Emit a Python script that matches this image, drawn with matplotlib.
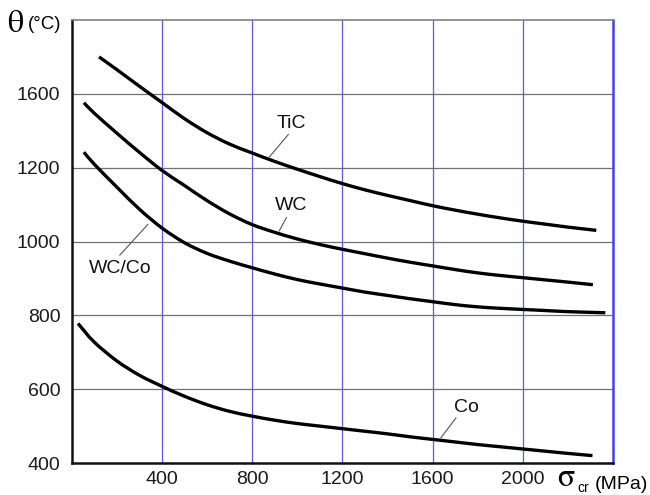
import matplotlib
matplotlib.use("Agg")
import matplotlib.pyplot as plt
from matplotlib.path import Path
from matplotlib.patches import PathPatch

# ---- data (y in linear plot units) ----
tic_x = [122, 200, 300, 400, 500, 600, 700, 800, 900, 1000, 1100, 1200, 1300,
         1400, 1500, 1600, 1700, 1800, 1900, 2000, 2100, 2200, 2300, 2326]
tic_y = [1500, 1466, 1421, 1377, 1333, 1295, 1264, 1240, 1217, 1196, 1176, 1157, 1140,
         1125, 1111, 1097, 1085, 1074, 1064, 1055, 1047, 1039, 1032, 1030]

wc_x = [55, 100, 200, 300, 400, 500, 600, 700, 800, 900, 1000, 1100, 1200,
        1300, 1400, 1500, 1600, 1700, 1800, 1900, 2000, 2100, 2200, 2311]
wc_y = [1376, 1348, 1294, 1242, 1193, 1152, 1111, 1075, 1046, 1025, 1007, 992, 979,
        967, 955, 944, 934, 924, 915, 908, 902, 896, 890, 883]

wcco_x = [55, 100, 200, 300, 400, 500, 600, 700, 800, 900, 1000, 1100, 1200,
          1300, 1400, 1500, 1600, 1700, 1800, 1900, 2000, 2100, 2200, 2366]
wcco_y = [1242, 1210, 1148, 1088, 1037, 997, 968, 947, 929, 912, 897, 885, 874,
          863, 854, 845, 837, 829, 823, 819, 816, 813, 810, 807]

co_x = [29, 100, 200, 300, 400, 500, 600, 700, 800, 900, 1000, 1100, 1200,
        1300, 1400, 1500, 1600, 1700, 1800, 1900, 2000, 2100, 2200, 2309]
co_y = [778, 728, 677, 638, 608, 581, 558, 540, 527, 516, 507, 500, 493,
        486, 479, 471, 464, 457, 450, 444, 438, 432, 426, 420]

x_ticks = [400, 800, 1200, 1600, 2000]
x_ticklabels = ["400", "800", "1200", "1600", "2000"]
y_ticks = [400, 600, 800, 1000, 1200, 1400]
y_ticklabels = ["400", "600", "800", "1000", "1200", "1600"]

FONT = "Liberation Sans"
GREEK = "STIXGeneral"


def smooth_path(xs, ys):
    """Smooth (Catmull-Rom -> cubic Bezier) path through the given points."""
    pts = list(zip(xs, ys))
    n = len(pts)
    verts = [pts[0]]
    codes = [Path.MOVETO]
    for i in range(n - 1):
        p0 = pts[i - 1] if i > 0 else pts[i]
        p1 = pts[i]
        p2 = pts[i + 1]
        p3 = pts[i + 2] if i + 2 < n else pts[i + 1]
        c1 = (p1[0] + (p2[0] - p0[0]) / 6.0, p1[1] + (p2[1] - p0[1]) / 6.0)
        c2 = (p2[0] - (p3[0] - p1[0]) / 6.0, p2[1] - (p3[1] - p1[1]) / 6.0)
        verts += [c1, c2, p2]
        codes += [Path.CURVE4] * 3
    return Path(verts, codes)


fig = plt.figure(figsize=(6.5, 4.95), dpi=100)
ax = fig.add_axes([71.5 / 650, 32 / 495, (613 - 71.5) / 650, (463 - 20) / 495])
ax.set_xlim(0, 2400)
ax.set_ylim(400, 1600)

# grid
for yv in y_ticks[1:]:
    ax.axhline(yv, color="#707070", lw=0.9, zorder=1)
for xv in x_ticks:
    ax.axvline(xv, color="#5a5ae6", lw=0.9, zorder=1)

# curves
for xs, ys in [(tic_x, tic_y), (wc_x, wc_y), (wcco_x, wcco_y), (co_x, co_y)]:
    ax.add_patch(PathPatch(smooth_path(xs, ys), facecolor="none", edgecolor="black",
                           lw=2.4, capstyle="butt", zorder=3))

# labels with leader lines
labels = [
    ("TiC", 975, 1320, (961, 1290), (877, 1229)),
    ("WC", 975, 1097, (953, 1065), (921, 1029)),
    ("WC/Co", 214, 927, (214, 963), (338, 1046)),
    ("Co", 1752, 549, (1704, 522), (1637, 468)),
]
for txt, tx, ty, p0, p1 in labels:
    ax.text(tx, ty, txt, ha="center", va="center", fontsize=14, family=FONT,
            color="#111111", zorder=4)
    ax.plot([p0[0], p1[0]], [p0[1], p1[1]], color="#555555", lw=0.8, zorder=4)

# spines
for s in ["left", "bottom"]:
    ax.spines[s].set_color("#111111")
    ax.spines[s].set_linewidth(1.8)
ax.spines["top"].set_color("#808080")
ax.spines["top"].set_linewidth(1.2)
ax.spines["right"].set_color("#4040f0")
ax.spines["right"].set_linewidth(1.8)

ax.set_xticks(x_ticks)
ax.set_xticklabels(x_ticklabels, fontsize=14, family=FONT)
ax.set_yticks(y_ticks)
ax.set_yticklabels(y_ticklabels, fontsize=14, family=FONT)
ax.tick_params(length=0, colors="#1a1a1a")
ax.tick_params(axis="y", pad=8)
ax.tick_params(axis="x", pad=6)

# axis titles
fig.text(7 / 650, 1 - 32 / 495, "θ", fontsize=23, family=GREEK, ha="left", va="baseline")
fig.text(28 / 650, 1 - 29 / 495, "(°C)", fontsize=13.5, family=FONT, ha="left", va="baseline")
fig.text(557 / 650, 1 - 493 / 495, r"$\mathrm{\sigma}$", fontsize=23, math_fontfamily="stix",
         ha="left", va="bottom")
fig.text(577 / 650, 1 - 492 / 495, "cr", fontsize=10, family=FONT, ha="left", va="baseline")
fig.text(595 / 650, 1 - 489 / 495, "(MPa)", fontsize=14, family=FONT, ha="left", va="baseline")

fig.savefig("out.png", dpi=100)
